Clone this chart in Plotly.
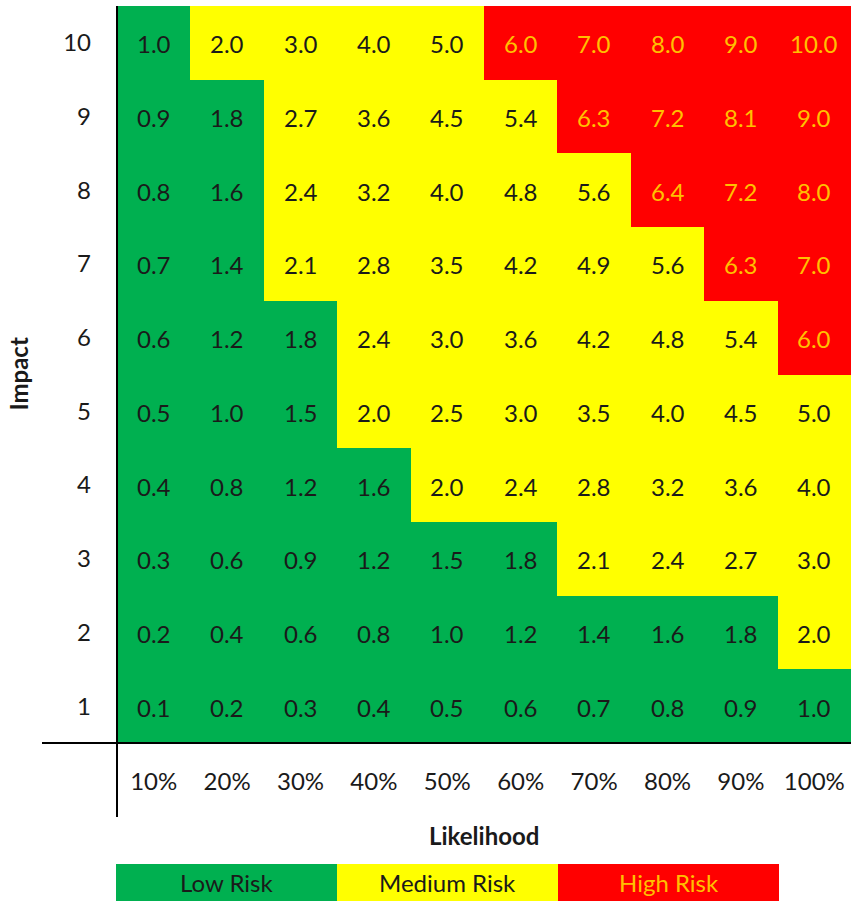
import plotly.graph_objects as go

# Axis categories
likelihood = ["10%", "20%", "30%", "40%", "50%", "60%", "70%", "80%", "90%", "100%"]
impact = [1, 2, 3, 4, 5, 6, 7, 8, 9, 10]

# Risk score per impact row (row order follows `impact`), one value per likelihood column
scores = [
    [0.1, 0.2, 0.3, 0.4, 0.5, 0.6, 0.7, 0.8, 0.9, 1.0],
    [0.2, 0.4, 0.6, 0.8, 1.0, 1.2, 1.4, 1.6, 1.8, 2.0],
    [0.3, 0.6, 0.9, 1.2, 1.5, 1.8, 2.1, 2.4, 2.7, 3.0],
    [0.4, 0.8, 1.2, 1.6, 2.0, 2.4, 2.8, 3.2, 3.6, 4.0],
    [0.5, 1.0, 1.5, 2.0, 2.5, 3.0, 3.5, 4.0, 4.5, 5.0],
    [0.6, 1.2, 1.8, 2.4, 3.0, 3.6, 4.2, 4.8, 5.4, 6.0],
    [0.7, 1.4, 2.1, 2.8, 3.5, 4.2, 4.9, 5.6, 6.3, 7.0],
    [0.8, 1.6, 2.4, 3.2, 4.0, 4.8, 5.6, 6.4, 7.2, 8.0],
    [0.9, 1.8, 2.7, 3.6, 4.5, 5.4, 6.3, 7.2, 8.1, 9.0],
    [1.0, 2.0, 3.0, 4.0, 5.0, 6.0, 7.0, 8.0, 9.0, 10.0],
]

# Risk bands
risk_levels = ["Low Risk", "Medium Risk", "High Risk"]
medium_from = 2.0
high_from = 6.0

GREEN, YELLOW, RED = "#00B050", "#FFFF00", "#FF0000"
band_colors = [GREEN, YELLOW, RED]
band_text = ["#1a1a1a", "#1a1a1a", "#FFC000"]
FONT = "Lato, 'Open Sans', sans-serif"
FS = 24


def band(v):
    v = round(v, 1)
    if v >= high_from:
        return 2
    if v >= medium_from:
        return 1
    return 0


levels = [[band(v) for v in row] for row in scores]

colorscale = [
    [0.0, GREEN], [0.25, GREEN],
    [0.25, YELLOW], [0.75, YELLOW],
    [0.75, RED], [1.0, RED],
]

W, H = 851, 901
gx0, gx1 = 117, 851
gy0, gy1 = 6, 743
lx0, lx1, ly0, ly1 = 116, 779, 864, 901


def px_x(p):
    return p / W


def px_y(p):
    return 1 - p / H


fig = go.Figure()

# Main matrix
fig.add_trace(go.Heatmap(
    x=likelihood, y=impact, z=levels,
    colorscale=colorscale, zmin=0, zmax=2, showscale=False,
    hoverinfo="skip", xaxis="x", yaxis="y",
))

# Key strip
fig.add_trace(go.Heatmap(
    x=risk_levels, y=[0], z=[[0, 1, 2]],
    colorscale=colorscale, zmin=0, zmax=2, showscale=False,
    hoverinfo="skip", xaxis="x2", yaxis="y2",
))

annotations = []

# Cell scores, coloured by band
for i, row in enumerate(scores):
    for j, v in enumerate(row):
        annotations.append(dict(
            x=likelihood[j], y=impact[i], xref="x", yref="y",
            text=f"{v:.1f}", showarrow=False, yshift=-1,
            font=dict(family=FONT, size=FS, color=band_text[levels[i][j]]),
        ))

# Key labels
for k, name in enumerate(risk_levels):
    annotations.append(dict(
        x=name, y=0, xref="x2", yref="y2", text=name, showarrow=False,
        yshift=0, font=dict(family=FONT, size=FS, color=band_text[k]),
    ))

# Axis titles
annotations += [
    dict(text="<b>Likelihood</b>", xref="paper", yref="paper",
         x=px_x((gx0 + gx1) / 2), y=px_y(835), showarrow=False,
         xanchor="center", yanchor="middle", font=dict(size=FS)),
    dict(text="<b>Impact</b>", xref="paper", yref="paper",
         x=px_x(18), y=px_y((gy0 + gy1) / 2), showarrow=False,
         textangle=-90, xanchor="center", yanchor="middle",
         font=dict(size=FS)),
]

fig.update_layout(
    width=W, height=H,
    margin=dict(l=0, r=0, t=0, b=0),
    paper_bgcolor="white", plot_bgcolor="white",
    font=dict(family=FONT, size=FS, color="#1a1a1a"),
    showlegend=False,
    xaxis=dict(
        domain=[px_x(gx0), px_x(gx1)], anchor="y",
        type="category", categoryorder="array", categoryarray=likelihood,
        showgrid=False, zeroline=False, showline=False, ticks="",
        ticklabelstandoff=22, automargin=False, fixedrange=True,
    ),
    yaxis=dict(
        domain=[px_y(gy1), px_y(gy0)], anchor="x",
        range=[0.5, 10.5], tickvals=impact,
        showgrid=False, zeroline=False, showline=False, ticks="",
        ticklabelstandoff=25, automargin=False, fixedrange=True,
    ),
    xaxis2=dict(
        domain=[px_x(lx0), px_x(lx1)], anchor="y2",
        type="category", showticklabels=False, showgrid=False,
        zeroline=False, showline=False, fixedrange=True,
    ),
    yaxis2=dict(
        domain=[px_y(ly1), px_y(ly0)], anchor="x2",
        range=[-0.5, 0.5], showticklabels=False, showgrid=False,
        zeroline=False, showline=False, fixedrange=True,
    ),
    shapes=[
        dict(type="line", xref="paper", yref="paper",
             x0=px_x(gx0), x1=px_x(gx0), y0=px_y(gy0), y1=px_y(817),
             line=dict(color="black", width=2)),
        dict(type="line", xref="paper", yref="paper",
             x0=px_x(42), x1=1, y0=px_y(gy1), y1=px_y(gy1),
             line=dict(color="black", width=2)),
    ],
    annotations=annotations,
)

fig.write_html("out.html")
